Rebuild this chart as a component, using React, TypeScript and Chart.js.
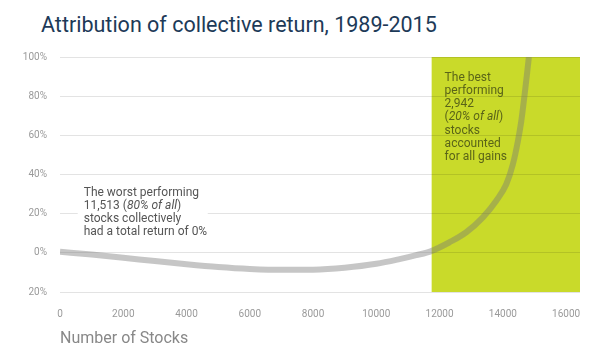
import React, { useEffect, useRef } from "react";
import { Chart, registerables } from "chart.js";

Chart.register(...registerables);

const TITLE = "Attribution of collective return, 1989-2015";
const X_TITLE = "Number of Stocks";

// Cumulative return curve (number of stocks ranked worst -> best, collective return %)
const STOCK_COUNT = [0, 1000, 2000, 3000, 4000, 5000, 6000, 7000, 8000, 9000, 10000, 10735, 11263, 11737, 12316, 12844, 13369, 13793, 14109, 14318, 14476, 14583, 14688, 14773, 14824];
const CUM_RETURN = [0.5, -0.9, -2.5, -4.2, -5.8, -7.2, -8.2, -8.7, -8.6, -7.6, -5.6, -3.2, -1.2, 0.9, 5.4, 10.5, 18.1, 26.6, 35, 45.2, 57, 67.2, 80.7, 92.6, 100];

const X_TICK_VALUES = [0, 2000, 4000, 6000, 8000, 10000, 12000, 14000, 16000];
const Y_TICK_VALUES = [-20, 0, 20, 40, 60, 80, 100];
const Y_TICK_LABELS = ["20%", "0%", "20%", "40%", "60%", "80%", "100%"];

// Highlight band: the best performing stocks
const HIGHLIGHT_START = 11750;
const HIGHLIGHT_END = 16440;

const X_MIN = 0;
const X_MAX = 16440;
const Y_MIN = -20;
const Y_MAX = 100;

type Seg = { t: string; italic?: boolean };

const WORST_NOTE: Seg[][] = [
  [{ t: "The worst performing" }],
  [{ t: "11,513 (" }, { t: "80% of all", italic: true }, { t: ")" }],
  [{ t: "stocks collectively" }],
  [{ t: "had a total return of 0%" }],
];
const WORST_NOTE_AT = { x: 750, y: 30.8 };

const BEST_NOTE: Seg[][] = [
  [{ t: "The best" }],
  [{ t: "performing" }],
  [{ t: "2,942" }],
  [{ t: "(" }, { t: "20% of all", italic: true }, { t: ")" }],
  [{ t: "stocks" }],
  [{ t: "accounted" }],
  [{ t: "for all gains" }],
];
const BEST_NOTE_AT = { x: 12160, y: 89.5 };

const FONT = "Roboto, 'Noto Sans', sans-serif";
const GREEN = "rgb(201, 218, 42)";

function drawNote(ctx: CanvasRenderingContext2D, lines: Seg[][], x: number, y: number, color: string, size: number, lh: number) {
  ctx.save();
  ctx.fillStyle = color;
  ctx.textBaseline = "middle";
  ctx.textAlign = "left";
  lines.forEach((line, i) => {
    let cx = x;
    line.forEach((s) => {
      ctx.font = `${s.italic ? "italic " : ""}${size}px ${FONT}`;
      ctx.fillText(s.t, cx, y + i * lh);
      cx += ctx.measureText(s.t).width;
    });
  });
  ctx.restore();
}

const annotationPlugin = {
  id: "annotations",
  beforeDraw(chart: any) {
    const { ctx, chartArea, scales } = chart;
    const xs = scales.x;
    const ys = scales.y;
    const left = Math.max(xs.getPixelForValue(HIGHLIGHT_START), chartArea.left);
    const right = Math.min(xs.getPixelForValue(HIGHLIGHT_END), chartArea.right);
    ctx.save();
    ctx.fillStyle = GREEN;
    ctx.fillRect(left, ys.getPixelForValue(Y_MAX), right - left, ys.getPixelForValue(Y_MIN) - ys.getPixelForValue(Y_MAX));
    ctx.restore();
  },
  beforeDatasetsDraw(chart: any) {
    const { ctx, scales } = chart;
    const xs = scales.x;
    const ys = scales.y;
    const lh = 13.3;
    const wx = xs.getPixelForValue(WORST_NOTE_AT.x);
    const wy = ys.getPixelForValue(WORST_NOTE_AT.y);
    ctx.save();
    ctx.fillStyle = "#ffffff";
    ctx.fillRect(wx - 6, wy - 10, 130, lh * 4 + 6);
    ctx.restore();
    drawNote(ctx, WORST_NOTE, wx, wy, "#555555", 12, lh);
    const bx = xs.getPixelForValue(BEST_NOTE_AT.x);
    const by = ys.getPixelForValue(BEST_NOTE_AT.y);
    drawNote(ctx, BEST_NOTE, bx, by, "#5a6418", 12, lh);
  },
};

export default function App() {
  const ref = useRef<HTMLCanvasElement>(null);
  useEffect(() => {
    if (!ref.current) return;
    const chart = new Chart(ref.current, {
      type: "line",
      data: {
        datasets: [
          {
            data: STOCK_COUNT.map((x, i) => ({ x, y: CUM_RETURN[i] })),
            borderColor: "rgba(120,120,120,0.42)",
            borderWidth: 6,
            pointRadius: 0,
            cubicInterpolationMode: "monotone",
            fill: false,
          },
        ],
      },
      options: {
        responsive: false,
        animation: false,
        devicePixelRatio: 1,
        layout: { padding: { top: 57, right: 28, bottom: 0, left: 0 } },
        plugins: { legend: { display: false }, tooltip: { enabled: false }, title: { display: false } },
        scales: {
          x: {
            type: "linear",
            min: X_MIN,
            max: X_MAX,
            grid: { display: false, drawTicks: false },
            border: { display: false },
            afterBuildTicks: (scale: any) => {
              scale.ticks = X_TICK_VALUES.map((value) => ({ value }));
            },
            afterFit: (scale: any) => {
              scale.height = 66;
            },
            ticks: {
              padding: 16,
              color: "#9a9a9a",
              font: { family: FONT, size: 10 },
              maxRotation: 0,
              autoSkip: false,
              callback: (v: any) => String(v),
            },
            title: {
              display: true,
              text: X_TITLE,
              align: "start",
              color: "#888888",
              font: { family: FONT, size: 16 },
              padding: { top: 0, bottom: 9 },
            },
          },
          y: {
            min: Y_MIN,
            max: Y_MAX,
            grid: { color: "rgba(0,0,0,0.11)", drawTicks: false, lineWidth: 1 },
            border: { display: false },
            afterBuildTicks: (scale: any) => {
              scale.ticks = Y_TICK_VALUES.map((value) => ({ value }));
            },
            afterFit: (scale: any) => {
              scale.width = 60;
            },
            ticks: {
              padding: 13,
              color: "#9a9a9a",
              font: { family: FONT, size: 10 },
              callback: (_v: any, i: number) => Y_TICK_LABELS[i],
            },
          },
        },
      },
      plugins: [annotationPlugin],
    } as any);
    return () => chart.destroy();
  }, []);

  return (
    <div style={{ position: "fixed", left: 0, top: 0, width: 608, height: 358, background: "#fff" }}>
      <div
        style={{
          position: "absolute",
          left: 41,
          top: 14,
          fontFamily: FONT,
          fontSize: 21.5,
          lineHeight: "21px",
          color: "#1d3a58",
          whiteSpace: "nowrap",
        }}
      >
        {TITLE}
      </div>
      <canvas ref={ref} width={608} height={358} style={{ position: "absolute", left: 0, top: 0 }} />
    </div>
  );
}
